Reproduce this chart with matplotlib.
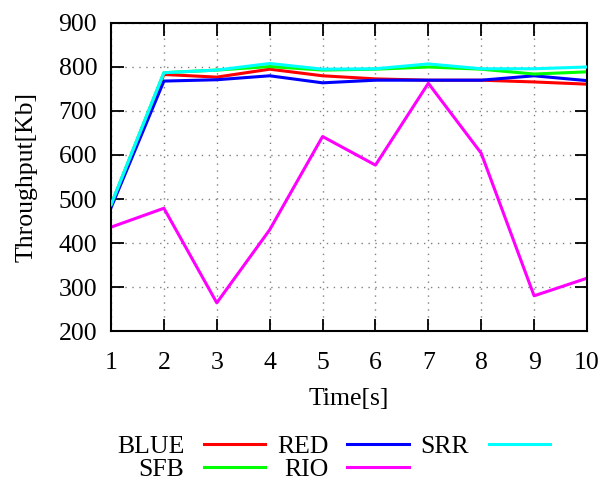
import matplotlib
matplotlib.use("Agg")
import matplotlib.pyplot as plt

plt.rcParams['font.family'] = ['Liberation Serif', 'DejaVu Serif']
plt.rcParams['font.size'] = 18.5

# time axis
time_s = [1, 2, 3, 4, 5, 6, 7, 8, 9, 10]

# throughput per queue discipline (Kb)
blue_q = [485, 783, 777, 795, 780, 773, 770, 770, 766, 761]
red_q = [480, 768, 771, 780, 764, 770, 770, 770, 780, 769]
srr_q = [487, 787, 793, 808, 795, 796, 807, 796, 796, 800]
sfb_q = [487, 787, 793, 801, 793, 795, 800, 795, 784, 789]
rio_q = [436, 479, 264, 430, 642, 577, 763, 604, 280, 320]

fig = plt.figure(figsize=(6.11, 4.84), dpi=100)
ax = fig.add_axes([0.1817, 0.3161, 0.779, 0.6364])

lw = 2.2
l_blue, = ax.plot(time_s, blue_q, color='#ff0000', lw=lw, label='BLUE')
l_red, = ax.plot(time_s, red_q, color='#0000ff', lw=lw, label='RED')
l_srr, = ax.plot(time_s, srr_q, color='#00ffff', lw=lw, label='SRR')
l_sfb, = ax.plot(time_s, sfb_q, color='#00ff00', lw=lw, label='SFB')
l_rio, = ax.plot(time_s, rio_q, color='#ff00ff', lw=lw, label='RIO')

# cyan drawn on top like the original
l_srr.set_zorder(3)

ax.set_xlim(1, 10)
ax.set_ylim(200, 900)
ax.set_xticks(time_s)
ax.set_yticks(range(200, 901, 100))
ax.grid(True, linestyle=(0, (1, 4)), color='#808080', lw=1.0)
ax.tick_params(direction='in', length=9, width=1.3, top=True, right=True, pad=10)
ax.tick_params(axis='x', pad=15)
for s in ax.spines.values():
    s.set_linewidth(1.5)

ax.set_xlabel("Time[s]", labelpad=10)
ax.set_ylabel("Throughput[Kb]", labelpad=15)

# gnuplot style key: label then line, three per row
handles = [l_blue, l_sfb, l_red, l_rio, l_srr]
fig.legend(handles, [h.get_label() for h in handles], ncol=3, markerfirst=False,
           frameon=False, loc='center', bbox_to_anchor=(0.546, 0.053),
           handlelength=2.4, handletextpad=0.75, columnspacing=0.45,
           labelspacing=0.0, borderpad=0)

fig.savefig("out.png", dpi=100)
